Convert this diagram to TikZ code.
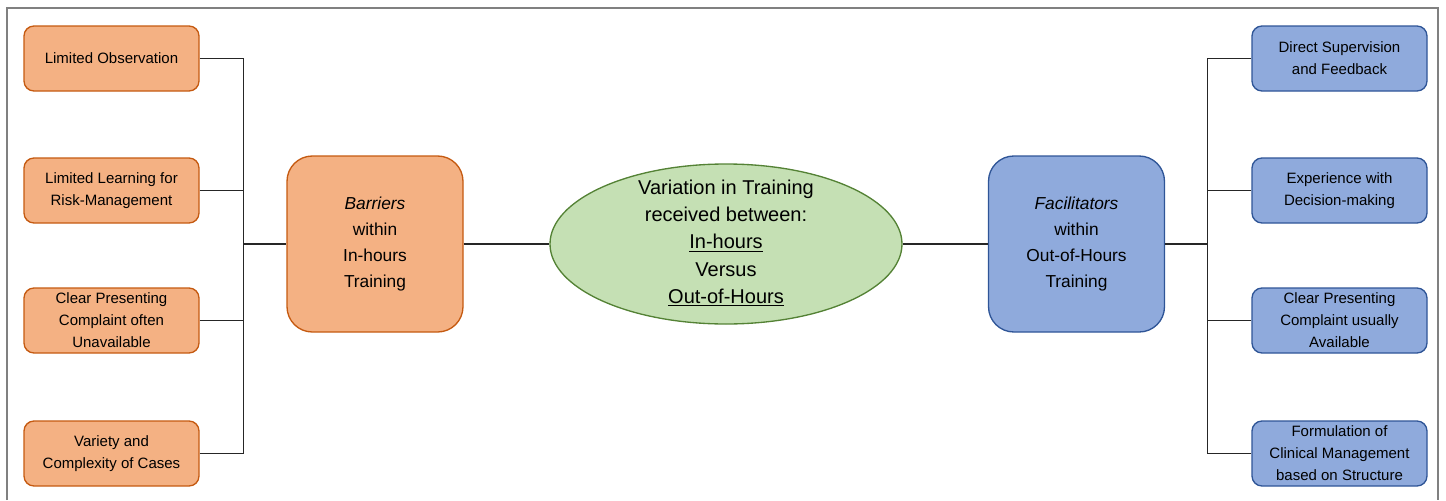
\documentclass[tikz,border=0pt]{standalone}
\usepackage{fontspec}
\setmainfont{Liberation Sans}
\usetikzlibrary{shapes.geometric}

\tikzset{every picture/.style={line width=0.75pt}}
\tikzset{
  leaf/.style={rounded corners=7.5pt, minimum width=131.25pt, minimum height=48.75pt, inner sep=0pt, align=center, line width=1, font=\fontsize{11.25}{16.5}\selectfont},
  barrier/.style={leaf, draw={rgb, 255:red, 197; green, 90; blue, 17 }, fill={rgb, 255:red, 244; green, 177; blue, 131 }},
  helper/.style={leaf, draw={rgb, 255:red, 47; green, 85; blue, 151 }, fill={rgb, 255:red, 143; green, 170; blue, 220 }},
  group/.style={rounded corners=19pt, minimum width=132pt, minimum height=132pt, inner sep=0pt, align=center, line width=1, font=\fontsize{13}{19.5}\selectfont},
  hub/.style={ellipse, draw={rgb, 255:red, 84; green, 130; blue, 53 }, fill={rgb, 255:red, 197; green, 224; blue, 180 }, minimum width=264pt, minimum height=120pt, inner sep=0pt, line width=1},
  link/.style={draw={rgb, 255:red, 38; green, 38; blue, 38 }, line width=1}
}

\begin{document}
\begin{tikzpicture}[x=0.75pt,y=0.75pt,yscale=-1,xscale=1]
	\useasboundingbox (0,0) rectangle (1446,500);

	%Frame
	\draw [color={rgb, 255:red, 128; green, 128; blue, 128 }, line width=1.5]  (7,500) -- (7,8) -- (1438,8) -- (1438,500) ;

	% Text Node
	\node [barrier] (obs) at (111.5,58.5) {Limited Observation};
	% Text Node
	\node [barrier] (risk) at (111.5,190.5) {Limited Learning for\\Risk-Management};
	% Text Node
	\node [barrier] (unavail) at (111.5,320.5) {Clear Presenting\\Complaint often\\Unavailable};
	% Text Node
	\node [barrier] (cases) at (111.5,453.5) {Variety and\\Complexity of Cases};
	% Text Node
	\node [group, draw={rgb, 255:red, 197; green, 90; blue, 17 }, fill={rgb, 255:red, 244; green, 177; blue, 131 }] (barriers) at (375,244) {\textit{Barriers}\\within\\In-hours\\Training};
	% Text Node
	\node [hub] (centre) at (726,244) {};
	\node [align=center, font=\fontsize{15}{20.5}\selectfont] (centretext) at (726,243) {Variation in Training\\received between:\\\underline{In-hours}\\Versus\\\underline{Out-of-Hours}};
	% Text Node
	\node [group, draw={rgb, 255:red, 47; green, 85; blue, 151 }, fill={rgb, 255:red, 143; green, 170; blue, 220 }] (facil) at (1076.5,244) {\textit{Facilitators}\\within\\Out-of-Hours\\Training};
	% Text Node
	\node [helper] (superv) at (1339.5,58.5) {Direct Supervision\\and Feedback};
	% Text Node
	\node [helper] (decide) at (1339.5,190.5) {Experience with\\Decision-making};
	% Text Node
	\node [helper] (avail) at (1339.5,320.5) {Clear Presenting\\Complaint usually\\Available};
	% Text Node
	\node [helper] (formul) at (1339.5,453.5) {Formulation of\\Clinical Management\\based on Structure};

	%Straight Lines
	\draw [link] (obs.east) -- ++(44,0) |- (barriers.west) ;
	\draw [link] (risk.east) -- ++(44,0) |- (barriers.west) ;
	\draw [link] (unavail.east) -- ++(44,0) |- (barriers.west) ;
	\draw [link] (cases.east) -- ++(44,0) |- (barriers.west) ;
	\draw [link] (barriers.east) -- (centre.west) ;
	\draw [link] (centre.east) -- (facil.west) ;
	\draw [link] (superv.west) -- ++(-44,0) |- (facil.east) ;
	\draw [link] (decide.west) -- ++(-44,0) |- (facil.east) ;
	\draw [link] (avail.west) -- ++(-44,0) |- (facil.east) ;
	\draw [link] (formul.west) -- ++(-44,0) |- (facil.east) ;

\end{tikzpicture}
\end{document}
